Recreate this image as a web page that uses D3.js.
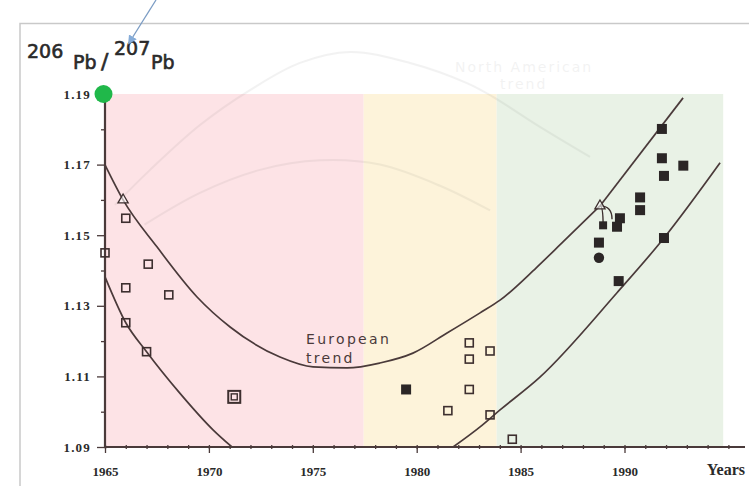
<!DOCTYPE html>
<html>
<head>
<meta charset="utf-8">
<script src="https://cdn.jsdelivr.net/npm/d3@7/dist/d3.min.js"></script>
<style>
  html, body { margin: 0; padding: 0; background: #ffffff; }
  svg { display: block; }
</style>
</head>
<body>
<script>
// ---- axis ticks and labels ----
const yTicks = [1.09, 1.11, 1.13, 1.15, 1.17, 1.19];
const yLabels = ["1.09", "1.11", "1.13", "1.15", "1.17", "1.19"];
const yMinorTicks = [1.10, 1.12, 1.14, 1.16, 1.18];
const xTicks = [1965, 1970, 1975, 1980, 1985, 1990];
const xLabels = ["1965", "1970", "1975", "1980", "1985", "1990"];
const xMinorTicks = d3.range(1965, 1997, 1);

// ---- shaded periods (year boundaries) ----
const periodBounds = [1965, 1977.45, 1983.85, 1994.75];

// ---- trend curves [year, 206Pb/207Pb] ----
const europeanUpper = [
  [1965.0, 1.1699], [1965.87, 1.1600], [1967.5, 1.1467], [1969.43, 1.1325],
  [1971.02, 1.1240], [1973.42, 1.1155], [1975.01, 1.1127], [1976.65, 1.1124],
  [1978.23, 1.1138], [1979.82, 1.1166], [1981.46, 1.1223], [1983.05, 1.1280],
  [1984.01, 1.1316], [1985.74, 1.1407], [1987.04, 1.1481], [1988.82, 1.1583]
];
const recentUpper = [[1988.82, 1.1583], [1992.82, 1.1889]];
const europeanLower = [
  [1965.0, 1.1382], [1966.0, 1.1252], [1967.0, 1.1170], [1968.61, 1.1052],
  [1970.21, 1.0948], [1971.11, 1.0900]
];
const recentLower = [
  [1981.75, 1.0900], [1983.05, 1.0957], [1984.01, 1.1005], [1985.93, 1.1098],
  [1989.64, 1.1337], [1991.9, 1.1492], [1994.6, 1.1705]
];
const northAmericanOuter = [
  [1965.48, 1.1586], [1967.17, 1.1685], [1969.57, 1.1812], [1971.98, 1.1911],
  [1974.38, 1.1988], [1976.79, 1.2019], [1979.68, 1.1988], [1982.42, 1.1931],
  [1983.67, 1.1892], [1985.93, 1.1807], [1988.34, 1.1722]
];
const northAmericanInner = [
  [1966.9, 1.1530], [1969.57, 1.1620], [1972.46, 1.1685], [1975.35, 1.1712],
  [1978.23, 1.1700], [1981.12, 1.1640], [1983.53, 1.1570]
];

// ---- measurements [year, 206Pb/207Pb] ----
const openSquares = [
  [1965.0, 1.1450], [1966.0, 1.1548], [1966.0, 1.1351], [1966.0, 1.1252],
  [1967.08, 1.1418], [1967.0, 1.1170], [1968.07, 1.1331],
  [1981.5, 1.1003], [1982.53, 1.1195], [1982.53, 1.1149], [1982.53, 1.1063],
  [1983.53, 1.1172], [1983.53, 1.0991], [1984.6, 1.0922]
];
const doubleSquares = [[1971.22, 1.1042]];
const filledSquares = [
  [1979.49, 1.1063],
  [1991.8, 1.1801], [1991.8, 1.1718], [1992.83, 1.1697], [1991.9, 1.1668],
  [1990.75, 1.1607], [1990.75, 1.1571], [1989.78, 1.1548], [1989.64, 1.1524],
  [1988.77, 1.1479], [1991.9, 1.1492], [1989.72, 1.1370]
];
const smallSquares = [[1988.97, 1.1528]];
const filledCircles = [[1988.77, 1.1436]];
const openTriangles = [[1965.87, 1.1600], [1988.82, 1.1583]];
const crossMarks = [[1985.74, 1.1407]];
const linkFrom = [1988.82, 1.1583];
const linkTo = [[1988.97, 1.1528], [1989.4, 1.1545]];

const W = 749, H = 486;
const x = d3.scaleLinear().domain([1965, 1990]).range([105, 624.5]);
const y = d3.scaleLinear().domain([1.09, 1.19]).range([447, 94]);

const ink = "#3d2f2f";
const svg = d3.select("body").append("svg").attr("width", W).attr("height", H);

// frame
svg.append("path")
  .attr("d", `M20,${H} L20,23.5 L${W},23.5`)
  .attr("fill", "none").attr("stroke", "#c9c9c9").attr("stroke-width", 1.5);

// shaded periods
const bandColors = ["#fde3e6", "#fdf3da", "#e9f2e6"];
svg.append("g").selectAll("rect")
  .data(d3.range(periodBounds.length - 1))
  .join("rect")
  .attr("x", i => x(periodBounds[i]))
  .attr("width", i => x(periodBounds[i + 1]) - x(periodBounds[i]))
  .attr("y", y(1.19))
  .attr("height", y(1.09) - y(1.19))
  .attr("fill", i => bandColors[i]);

const line = d3.line().x(d => x(d[0])).y(d => y(d[1]));
const smooth = d3.line().x(d => x(d[0])).y(d => y(d[1])).curve(d3.curveMonotoneX);
const arc = d3.line().x(d => x(d[0])).y(d => y(d[1])).curve(d3.curveCatmullRom);

// faint North American trend
const ghost = svg.append("g").attr("opacity", 0.06);
[northAmericanOuter, northAmericanInner].forEach(c =>
  ghost.append("path").attr("d", arc(c))
    .attr("fill", "none").attr("stroke", "#333").attr("stroke-width", 2));
ghost.append("text").attr("x", 455).attr("y", 72)
  .attr("font-family", "DejaVu Sans").attr("font-size", 14)
  .attr("letter-spacing", 2).attr("fill", "#333").text("North American");
ghost.append("text").attr("x", 500).attr("y", 89)
  .attr("font-family", "DejaVu Sans").attr("font-size", 14)
  .attr("letter-spacing", 2).attr("fill", "#333").text("trend");

// trend curves
const curves = svg.append("g").attr("fill", "none").attr("stroke", "#4a3a3a")
  .attr("stroke-width", 1.7);
curves.append("path").attr("d", smooth(europeanUpper));
curves.append("path").attr("d", line(recentUpper));
curves.append("path").attr("d", smooth(europeanLower));
curves.append("path").attr("d", smooth(recentLower));

// link strokes from the open triangle
linkTo.forEach(p =>
  svg.append("path")
    .attr("d", `M${x(linkFrom[0])},${y(linkFrom[1])} Q${x(p[0])},${y(linkFrom[1])} ${x(p[0])},${y(p[1])}`)
    .attr("fill", "none").attr("stroke", ink).attr("stroke-width", 1.4));

// "European trend" label
const lab = svg.append("text").attr("font-family", "DejaVu Sans").attr("font-size", 14)
  .attr("letter-spacing", 2.3).attr("fill", "#4a3a3a");
lab.append("tspan").attr("x", 306).attr("y", 344).text("European");
lab.append("tspan").attr("x", 306).attr("y", 363).text("trend");

// axes
const yAxisG = svg.append("g").attr("transform", `translate(${x(1965)},0)`)
  .call(d3.axisLeft(y).tickValues(yTicks).tickSize(8).tickPadding(6)
    .tickFormat((d, i) => yLabels[i]));
const yMinor = svg.append("g").attr("transform", `translate(${x(1965)},0)`)
  .call(d3.axisLeft(y).tickValues(yMinorTicks).tickSize(4).tickFormat(""));
const xAxisG = svg.append("g").attr("transform", `translate(0,${y(1.09)})`)
  .call(d3.axisBottom(x).tickValues(xTicks).tickSize(6).tickPadding(14)
    .tickFormat((d, i) => xLabels[i]));
const xMinor = svg.append("g").attr("transform", `translate(0,${y(1.09) - 2})`)
  .call(d3.axisBottom(x).tickValues(xMinorTicks).tickSize(4).tickFormat(""));
[yAxisG, yMinor, xAxisG, xMinor].forEach(g => {
  g.select(".domain").remove();
  g.selectAll("line").attr("stroke", "#4a3a3a").attr("stroke-width", 1.3);
  g.selectAll("text").attr("font-family", "Liberation Serif").attr("font-weight", "bold")
    .attr("font-size", 13).attr("fill", "#2a2a2a");
});
yAxisG.selectAll("text").attr("letter-spacing", 1.2);

svg.append("line").attr("x1", x(1965)).attr("x2", x(1965))
  .attr("y1", y(1.19)).attr("y2", y(1.09) + 1)
  .attr("stroke", "#4a3a3a").attr("stroke-width", 2.2);
svg.append("line").attr("x1", x(1965)).attr("x2", 745)
  .attr("y1", y(1.09)).attr("y2", y(1.09))
  .attr("stroke", "#4a3a3a").attr("stroke-width", 2.2);

svg.append("text").attr("x", 745).attr("y", y(1.09) + 28).attr("text-anchor", "end")
  .attr("font-family", "Liberation Serif").attr("font-weight", "bold")
  .attr("font-size", 16).attr("fill", "#2a2a2a").text("Years");

// markers
const m = svg.append("g");
m.selectAll(".os").data(openSquares).join("rect")
  .attr("x", d => x(d[0]) - 4).attr("y", d => y(d[1]) - 4)
  .attr("width", 8).attr("height", 8)
  .attr("fill", "none").attr("stroke", ink).attr("stroke-width", 1.6);
doubleSquares.forEach(d => {
  m.append("rect").attr("x", x(d[0]) - 6).attr("y", y(d[1]) - 6)
    .attr("width", 12).attr("height", 12).attr("fill", "none")
    .attr("stroke", ink).attr("stroke-width", 2);
  m.append("rect").attr("x", x(d[0]) - 3).attr("y", y(d[1]) - 3)
    .attr("width", 6).attr("height", 6).attr("fill", "none")
    .attr("stroke", ink).attr("stroke-width", 1.4);
});
m.selectAll(".fs").data(filledSquares).join("rect")
  .attr("x", d => x(d[0]) - 5).attr("y", d => y(d[1]) - 5)
  .attr("width", 10).attr("height", 10).attr("fill", "#2b2626");
m.selectAll(".ss").data(smallSquares).join("rect")
  .attr("x", d => x(d[0]) - 4).attr("y", d => y(d[1]) - 4)
  .attr("width", 8).attr("height", 8).attr("fill", "#2b2626");
m.selectAll(".fc").data(filledCircles).join("circle")
  .attr("cx", d => x(d[0])).attr("cy", d => y(d[1])).attr("r", 5.2)
  .attr("fill", "#2b2626");
m.selectAll(".ot").data(openTriangles).join("path")
  .attr("d", d3.symbol(d3.symbolTriangle, 45))
  .attr("transform", d => `translate(${x(d[0])},${y(d[1])})`)
  .attr("fill", "#fff").attr("fill-opacity", 0.6)
  .attr("stroke", ink).attr("stroke-width", 1.3);
m.selectAll(".cm").data(crossMarks).join("path")
  .attr("d", d3.symbol(d3.symbolTimes, 22))
  .attr("transform", d => `translate(${x(d[0])},${y(d[1])})`)
  .attr("fill", ink);

// green marker at the top of the y axis
svg.append("circle").attr("cx", x(1965) - 1.5).attr("cy", y(1.19)).attr("r", 9)
  .attr("fill", "#20b84a");

// axis title 206Pb/207Pb
const t = svg.append("g").attr("font-family", "DejaVu Sans").attr("font-size", 19)
  .attr("fill", "#2a2a2a").attr("stroke", "#2a2a2a").attr("stroke-width", 0.6);
t.append("text").attr("x", 27).attr("y", 58).text("206");
t.append("text").attr("x", 73).attr("y", 69).text("Pb");
t.append("text").attr("x", 101).attr("y", 69).attr("font-size", 22).text("/");
t.append("text").attr("x", 114).attr("y", 55).text("207");
t.append("text").attr("x", 151).attr("y", 69).text("Pb");

// pointer arrow
svg.append("defs").append("marker")
  .attr("id", "head").attr("viewBox", "0 0 10 10").attr("refX", 8).attr("refY", 5)
  .attr("markerWidth", 7).attr("markerHeight", 7).attr("orient", "auto")
  .append("path").attr("d", "M0,0 L10,5 L0,10 Z").attr("fill", "#86acd8");
svg.append("line").attr("x1", 156).attr("y1", 0).attr("x2", 129).attr("y2", 43)
  .attr("stroke", "#7b9cc4").attr("stroke-width", 1.3).attr("marker-end", "url(#head)");
</script>
</body>
</html>
